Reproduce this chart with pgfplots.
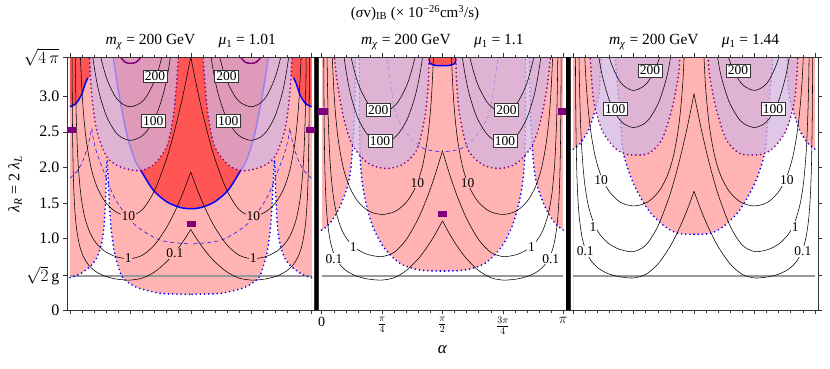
\documentclass[border=0pt]{standalone}
\usepackage{fontspec}
\setmainfont{Liberation Serif}
\usepackage{pgfplots}
\usepackage{pgfplotstable}
\pgfplotsset{compat=1.18}

\definecolor{pinkc}{HTML}{FFB3B3}
\definecolor{redc}{HTML}{FF5555}
\definecolor{lavc}{HTML}{D4B4DF}
\definecolor{purpc}{HTML}{800080}

\newcommand\fs[1]{\fontsize{#1}{#1}\selectfont}
% plot a half-table and its mirror image about alpha = pi/2
\newcommand\mir[2]{\addplot[#1] table[x=a,y=l]{#2};\addplot[#1] table[x expr=pi-\thisrow{a},y=l]{#2};}
\newcommand\mircc[2]{\addplot[#1] table[x=a,y=l]{#2}\closedcycle;\addplot[#1] table[x expr=pi-\thisrow{a},y=l]{#2}\closedcycle;}

% ---------- panel 1 (mu1 = 1.01) ----------
\pgfplotstableread[row sep=\\]{a l\\
0 0.453\\ 0.13 0.505\\ 0.26 0.608\\ 0.347 0.725\\ 0.412 0.935\\ 0.446 1.215\\ 0.468 1.683\\ 0.481 2.104\\
0.503 1.683\\ 0.529 1.215\\ 0.572 0.842\\ 0.628 0.608\\ 0.693 0.444\\ 0.867 0.318\\ 1.127 0.243\\ 1.3 0.226\\ 1.5708 0.22\\ 1.6 0.22\\}\BoneP
\pgfplotstableread[row sep=\\]{a l\\
0.545 3.7\\ 0.563 3.545\\ 0.628 3.086\\ 0.737 2.478\\ 0.845 2.104\\ 0.932 1.94\\ 1.083 1.683\\ 1.257 1.519\\ 1.43 1.44\\ 1.5708 1.421\\
1.7116 1.44\\ 1.8846 1.519\\ 2.0586 1.683\\ 2.2096 1.94\\ 2.2966 2.104\\ 2.4046 2.478\\ 2.5136 3.086\\ 2.5786 3.545\\ 2.5966 3.7\\}\UoneP
\pgfplotstableread[row sep=\\]{a l\\
0 3.7\\ 0 2.85\\ 0.08 2.9\\ 0.15 3.02\\ 0.2 3.2\\ 0.28 3.3\\ 0.28 3.7\\}\ConeP
\pgfplotstableread[row sep=\\]{a l\\
0 2.85\\ 0.08 2.9\\ 0.15 3.02\\ 0.2 3.18\\ 0.235 3.26\\}\ConeArc
\pgfplotstableread[row sep=\\]{a l\\
0.245 3.7\\ 0.251 3.544\\ 0.282 3.039\\ 0.347 2.525\\ 0.477 2.151\\ 0.65 2.01\\ 0.888 1.954\\ 1.083 2.034\\ 1.257 2.291\\ 1.343 2.712\\ 1.386 3.179\\ 1.408 3.544\\ 1.412 3.7\\}\LoneP
\pgfplotstableread[row sep=\\]{a l\\
0 1.85\\ 0.08 1.93\\ 0.15 2.05\\ 0.22 2.25\\ 0.265 2.45\\ 0.282 2.55\\ 0.30 2.42\\ 0.35 2.2\\ 0.433 1.963\\ 0.585 1.566\\ 0.823 1.216\\ 1.17 0.982\\ 1.5708 0.926\\}\DoneP
\pgfplotstableread[row sep=\\]{a l\\
0.65 3.6\\ 0.66 3.544\\ 0.72 3.475\\ 0.789 3.46\\ 0.86 3.475\\ 0.92 3.544\\ 0.932 3.6\\}\PoneArc
\pgfplotstableread[row sep=\\]{a l\\
0.0248 4.2\\ 0.0275 3.36\\ 0.0334 2.52\\ 0.0428 1.932\\ 0.0572 1.512\\ 0.0816 1.176\\ 0.1203 0.924\\ 0.1715 0.756\\ 0.2428 0.63\\ 0.3268 0.546\\
0.4361 0.483\\ 0.5535 0.445\\ 0.649 0.428\\ 0.7854 0.42\\ 0.9425 0.448\\ 1.0996 0.534\\ 1.2566 0.676\\ 1.3744 0.819\\ 1.4765 0.970\\ 1.5708 1.130\\}\AoneA
\pgfplotstableread[row sep=\\]{a l\\
0.0627 4.32\\ 0.0715 3.312\\ 0.0851 2.592\\ 0.1082 2.016\\ 0.145 1.584\\ 0.1937 1.296\\ 0.2618 1.08\\ 0.3423 0.936\\ 0.4476 0.828\\ 0.5612 0.763\\
0.6518 0.734\\ 0.7854 0.72\\ 0.9425 0.769\\ 1.0996 0.914\\ 1.2566 1.158\\ 1.3744 1.405\\ 1.4765 1.662\\ 1.5708 1.937\\}\AoneB
\pgfplotstableread[row sep=\\]{a l\\
0.1087 4.752\\ 0.1307 3.696\\ 0.1659 2.904\\ 0.2125 2.376\\ 0.278 1.98\\ 0.3556 1.716\\ 0.4574 1.518\\ 0.5678 1.399\\ 0.656 1.346\\ 0.7854 1.32\\
0.9425 1.409\\ 1.0996 1.676\\ 1.2566 2.123\\ 1.3744 2.575\\ 1.4765 3.048\\ 1.5708 3.551\\}\AoneC
\pgfplotstableread[row sep=\\]{a l\\
0.2317 4.284\\ 0.2945 3.57\\ 0.369 3.094\\ 0.468 2.737\\ 0.574 2.523\\ 0.660 2.428\\ 0.7854 2.38\\ 0.919 2.428\\ 1.0096 2.523\\ 1.1232 2.737\\ 1.2285 3.094\\ 1.309 3.57\\ 1.3771 4.284\\}\AoneD
\pgfplotstableread[row sep=\\]{a l\\
0.2945 4.275\\ 0.369 3.705\\ 0.468 3.278\\ 0.574 3.021\\ 0.660 2.907\\ 0.7854 2.85\\ 0.919 2.907\\ 1.0096 3.021\\ 1.1232 3.278\\ 1.2285 3.705\\ 1.309 4.275\\}\AoneE

% ---------- panel 2 (mu1 = 1.1) ----------
\pgfplotstableread[row sep=\\]{a l\\
0 1.122\\ 0.108 1.216\\ 0.238 1.449\\ 0.347 1.777\\ 0.39 2.104\\ 0.425 2.712\\ 0.442 3.545\\ 0.445 3.7\\ 0.487 3.7\\ 0.49 3.545\\
0.498 2.244\\ 0.542 1.683\\ 0.65 1.216\\ 0.802 0.888\\ 1.018 0.655\\ 1.278 0.561\\ 1.5708 0.547\\ 1.6 0.547\\}\BtwoP
\pgfplotstableread[row sep=\\]{a l\\
1.39 3.7\\ 1.395 3.545\\ 1.408 3.46\\ 1.49 3.43\\ 1.5708 3.427\\ 1.6516 3.43\\ 1.7336 3.46\\ 1.7466 3.545\\ 1.7516 3.7\\}\KtwoP
\pgfplotstableread[row sep=\\]{a l\\
0.16 3.7\\ 0.165 3.544\\ 0.217 3.086\\ 0.303 2.618\\ 0.412 2.291\\ 0.607 2.057\\ 0.823 1.987\\ 1.04 2.034\\ 1.235 2.244\\ 1.343 2.712\\ 1.386 3.179\\ 1.395 3.544\\ 1.398 3.7\\}\LtwoP
\pgfplotstableread[row sep=\\]{a l\\
0.80 3.7\\ 0.845 3.544\\ 0.953 2.805\\ 1.105 2.478\\ 1.322 2.267\\ 1.5708 2.22\\}\DtwoP
\pgfplotstableread[row sep=\\]{a l\\
0.0248 4.2\\ 0.0275 3.36\\ 0.0334 2.52\\ 0.0428 1.932\\ 0.0572 1.512\\ 0.0816 1.176\\ 0.1203 0.924\\ 0.1715 0.756\\ 0.2428 0.63\\ 0.3268 0.546\\
0.4361 0.483\\ 0.5535 0.445\\ 0.649 0.428\\ 0.7854 0.42\\ 0.9425 0.453\\ 1.0996 0.553\\ 1.2566 0.719\\ 1.3744 0.888\\ 1.4765 1.064\\ 1.5708 1.251\\}\AtwoA
\pgfplotstableread[row sep=\\]{a l\\
0.0627 4.5\\ 0.0715 3.45\\ 0.0851 2.7\\ 0.1082 2.1\\ 0.145 1.65\\ 0.1937 1.35\\ 0.2618 1.125\\ 0.3423 0.975\\ 0.4476 0.8625\\ 0.5612 0.795\\
0.6518 0.765\\ 0.7854 0.75\\ 0.9425 0.809\\ 1.0996 0.987\\ 1.2566 1.284\\ 1.3744 1.585\\ 1.4765 1.899\\ 1.5708 2.234\\}\AtwoB
\pgfplotstableread[row sep=\\]{a l\\
0.1087 4.824\\ 0.1307 3.752\\ 0.1659 2.948\\ 0.2125 2.412\\ 0.278 2.01\\ 0.3556 1.742\\ 0.4574 1.541\\ 0.5678 1.42\\ 0.656 1.367\\ 0.7854 1.34\\
0.919 1.367\\ 1.0096 1.42\\ 1.1232 1.541\\ 1.2285 1.742\\ 1.309 2.01\\ 1.3771 2.412\\ 1.4258 2.948\\ 1.4626 3.752\\}\AtwoC
\pgfplotstableread[row sep=\\]{a l\\
0.2317 4.23\\ 0.2945 3.525\\ 0.369 3.055\\ 0.468 2.7025\\ 0.574 2.491\\ 0.660 2.397\\ 0.7854 2.35\\ 0.919 2.397\\ 1.0096 2.491\\ 1.1232 2.7025\\ 1.2285 3.055\\ 1.309 3.525\\ 1.3771 4.23\\}\AtwoD
\pgfplotstableread[row sep=\\]{a l\\
0.2945 4.17\\ 0.369 3.614\\ 0.468 3.197\\ 0.574 2.947\\ 0.660 2.836\\ 0.7854 2.78\\ 0.919 2.836\\ 1.0096 2.947\\ 1.1232 3.197\\ 1.2285 3.614\\ 1.309 4.17\\}\AtwoE

% ---------- panel 3 (mu1 = 1.44) ----------
\pgfplotstableread[row sep=\\]{a l\\
0 2.258\\ 0.091 2.338\\ 0.199 2.525\\ 0.285 2.805\\ 0.337 3.039\\ 0.363 3.545\\ 0.366 3.7\\ 0.542 3.7\\ 0.545 3.545\\
0.609 2.712\\ 0.653 2.197\\ 0.782 1.777\\ 0.977 1.402\\ 1.193 1.169\\ 1.366 1.075\\ 1.5708 1.061\\ 1.6 1.061\\}\BthreeP
\pgfplotstableread[row sep=\\]{a l\\
0.215 3.7\\ 0.22 3.544\\ 0.264 2.945\\ 0.372 2.525\\ 0.523 2.291\\ 0.653 2.197\\ 0.782 2.174\\ 0.977 2.197\\ 1.15 2.384\\ 1.279 2.805\\ 1.366 3.273\\ 1.387 3.544\\ 1.39 3.7\\}\LthreeP
\pgfplotstableread[row sep=\\]{a l\\
0.0248 4.5\\ 0.0275 3.6\\ 0.0334 2.7\\ 0.0428 2.07\\ 0.0572 1.62\\ 0.0816 1.26\\ 0.1203 0.99\\ 0.1715 0.81\\ 0.2428 0.675\\ 0.3268 0.585\\
0.4361 0.5175\\ 0.5535 0.477\\ 0.649 0.459\\ 0.7854 0.45\\ 0.9425 0.499\\ 1.0996 0.644\\ 1.2566 0.887\\ 1.3744 1.134\\ 1.4765 1.391\\ 1.5708 1.665\\}\AthreeA
\pgfplotstableread[row sep=\\]{a l\\
0.0627 4.92\\ 0.0715 3.772\\ 0.0851 2.952\\ 0.1082 2.296\\ 0.145 1.804\\ 0.1937 1.476\\ 0.2618 1.23\\ 0.3423 1.066\\ 0.4476 0.943\\ 0.5612 0.869\\
0.6518 0.836\\ 0.7854 0.82\\ 0.9425 0.909\\ 1.0996 1.174\\ 1.2566 1.617\\ 1.3744 2.066\\ 1.4765 2.535\\ 1.5708 3.034\\}\AthreeB
\pgfplotstableread[row sep=\\]{a l\\
0.1087 5.256\\ 0.1307 4.088\\ 0.1659 3.212\\ 0.2125 2.628\\ 0.278 2.19\\ 0.3556 1.898\\ 0.4574 1.679\\ 0.5678 1.548\\ 0.656 1.489\\ 0.7854 1.46\\
0.919 1.489\\ 1.0096 1.548\\ 1.1232 1.679\\ 1.2285 1.898\\ 1.309 2.19\\ 1.3771 2.628\\ 1.4258 3.212\\ 1.4626 4.088\\}\AthreeC
\pgfplotstableread[row sep=\\]{a l\\
0.2317 4.608\\ 0.2945 3.84\\ 0.369 3.328\\ 0.468 2.944\\ 0.574 2.714\\ 0.660 2.611\\ 0.7854 2.56\\ 0.919 2.611\\ 1.0096 2.714\\ 1.1232 2.944\\ 1.2285 3.328\\ 1.309 3.84\\}\AthreeD
\pgfplotstableread[row sep=\\]{a l\\
0.369 4.004\\ 0.468 3.542\\ 0.574 3.265\\ 0.660 3.142\\ 0.7854 3.08\\ 0.919 3.142\\ 1.0096 3.265\\ 1.1232 3.542\\ 1.2285 4.004\\}\AthreeE

\pgfplotsset{
  panel/.style={scale only axis, width=247.7pt, height=252.7pt, anchor=south west,
    xmin=-0.04, xmax=3.1816, ymin=0, ymax=3.5449,
    xtick={0,0.7854,1.5708,2.3562,3.1416}, minor x tick num=4,
    ytick={0,0.4815,1,1.5,2,2.5,3,3.5449},
    xticklabels={}, yticklabels={},
    tick align=outside, major tick length=4pt, minor tick length=2.5pt,
    axis line style={line width=0.6pt, black!80},
    every tick/.style={black!80, line width=0.5pt},
    yticklabel style={font=\fs{16}},
    xticklabel style={font=\fs{14}},
    axis on top},
  cont/.style={black, line width=0.55pt, smooth, mark=none},
  bdot/.style={blue, line width=1.9pt, line cap=round, dash pattern=on 0pt off 4.2pt, smooth, mark=none},
  pdot/.style={purpc, line width=1.9pt, line cap=round, dash pattern=on 0pt off 4.2pt, smooth, mark=none},
  bsol/.style={blue, line width=1.5pt, smooth, mark=none},
  psol/.style={purpc, line width=1.5pt, smooth, mark=none},
  bdash/.style={blue, line width=0.5pt, dash pattern=on 4pt off 3pt, smooth, mark=none},
  lob/.style={fill=lavc, fill opacity=0.73, draw=none, smooth},
  gline/.style={black!40, line width=1.7pt, mark=none},
  pmark/.style={only marks, mark=square*, mark size=2.6pt, mark options={xscale=1.55, fill=purpc, draw=purpc}},
}
\tikzset{
  boxlab/.style={fill=white, draw=black!80, line width=0.5pt, inner sep=1.8pt, font=\fs{13.5}},
  plab/.style={inner sep=0.8pt, font=\fs{13.5}},
}

\begin{document}
\begin{tikzpicture}
\useasboundingbox (0pt,0pt) rectangle (830pt,368pt);

% ===== panel 1 =====
\begin{axis}[panel, name=p1, at={(66.9pt,58pt)},
  yticklabels={0,{$\sqrt{2}\,$g},1.0,1.5,2.0,2.5,3.0,{$\sqrt{4\,\pi}$}}]
\addplot[fill=pinkc, draw=none] coordinates {(0,0) (0,3.7) (3.1416,3.7) (3.1416,0)};
\mircc{fill=white, draw=none, smooth}{\BoneP}
\addplot[fill=redc, draw=none, smooth] table[x=a,y=l]{\UoneP};
\mir{fill=redc, draw=none}{\ConeP}
\addplot[gline] coordinates {(0,0.4815) (3.1416,0.4815)};
\addplot[bsol] table[x=a,y=l]{\UoneP};
\mir{bsol}{\ConeArc}
\mir{bdash}{\DoneP}
\mir{bdot}{\BoneP}
\mir{lob}{\LoneP}
\mir{pdot}{\LoneP}
\mir{psol}{\PoneArc}
\mir{cont}{\AoneA}
\mir{cont}{\AoneB}
\mir{cont}{\AoneC}
\mir{cont}{\AoneD}
\mir{cont}{\AoneE}
\node[boxlab] at (axis cs:1.105,3.28) {200};
\node[boxlab] at (axis cs:2.036,3.28) {200};
\node[boxlab] at (axis cs:1.083,2.65) {100};
\node[boxlab] at (axis cs:2.059,2.65) {100};
\node[plab, fill=pinkc] at (axis cs:0.758,1.32) {10};
\node[plab, fill=pinkc] at (axis cs:2.384,1.32) {10};
\node[plab, fill=pinkc] at (axis cs:0.758,0.725) {1};
\node[plab, fill=pinkc] at (axis cs:2.384,0.725) {1};
\node[plab, fill=pinkc] at (axis cs:1.365,0.795) {0.1};
\addplot[pmark] coordinates {(1.5708,1.215) (0.02,2.525) (3.12,2.525)};
\end{axis}

% ===== panel 2 =====
\begin{axis}[panel, name=p2, at={(318.6pt,58pt)},
  xticklabels={0,$\frac{\pi}{4}$,$\frac{\pi}{2}$,$\frac{3\pi}{4}$,$\pi$}]
\addplot[fill=pinkc, draw=none] coordinates {(0,0) (0,3.7) (3.1416,3.7) (3.1416,0)};
\mircc{fill=white, draw=none, smooth}{\BtwoP}
\addplot[fill=redc, draw=none, smooth] table[x=a,y=l]{\KtwoP};
\addplot[gline] coordinates {(0,0.4815) (3.1416,0.4815)};
\addplot[bsol] table[x=a,y=l]{\KtwoP};
\mir{bdash}{\DtwoP}
\mir{bdot}{\BtwoP}
\mir{lob}{\LtwoP}
\mir{pdot}{\LtwoP}
\mir{cont}{\AtwoA}
\mir{cont}{\AtwoB}
\mir{cont}{\AtwoC}
\mir{cont}{\AtwoD}
\mir{cont}{\AtwoE}
\node[boxlab] at (axis cs:0.737,2.81) {200};
\node[boxlab] at (axis cs:2.404,2.81) {200};
\node[boxlab] at (axis cs:0.758,2.37) {100};
\node[boxlab] at (axis cs:2.383,2.37) {100};
\node[plab, fill=pinkc] at (axis cs:1.243,1.78) {10};
\node[plab, fill=pinkc] at (axis cs:1.898,1.78) {10};
\node[plab, fill=white] at (axis cs:0.41,0.89) {1};
\node[plab, fill=white] at (axis cs:2.73,0.89) {1};
\node[plab, fill=white] at (axis cs:0.16,0.72) {0.1};
\node[plab, fill=white] at (axis cs:2.98,0.72) {0.1};
\addplot[pmark] coordinates {(1.5708,1.356) (0.013,2.79) (3.128,2.79)};
\end{axis}

% ===== panel 3 =====
\begin{axis}[panel, name=p3, at={(570.2pt,58pt)}]
\addplot[fill=pinkc, draw=none] coordinates {(0,0) (0,3.7) (3.1416,3.7) (3.1416,0)};
\mircc{fill=white, draw=none, smooth}{\BthreeP}
\addplot[gline] coordinates {(0,0.4815) (3.1416,0.4815)};
\mir{bdot}{\BthreeP}
\mir{lob}{\LthreeP}
\mir{pdot}{\LthreeP}
\mir{cont}{\AthreeA}
\mir{cont}{\AthreeB}
\mir{cont}{\AthreeC}
\mir{cont}{\AthreeD}
\mir{cont}{\AthreeE}
\node[boxlab] at (axis cs:0.998,3.36) {200};
\node[boxlab] at (axis cs:2.143,3.36) {200};
\node[boxlab] at (axis cs:0.545,2.82) {100};
\node[boxlab] at (axis cs:2.597,2.82) {100};
\node[plab, fill=white] at (axis cs:0.363,1.82) {10};
\node[plab, fill=white] at (axis cs:2.779,1.82) {10};
\node[plab, fill=white] at (axis cs:0.255,1.17) {1};
\node[plab, fill=white] at (axis cs:2.887,1.17) {1};
\node[plab, fill=white] at (axis cs:0.156,0.82) {0.1};
\node[plab, fill=white] at (axis cs:2.986,0.82) {0.1};
\end{axis}

% thick separators between the panels
\draw[line width=3.6pt] ([xshift=-2pt]p2.south west) -- ([xshift=-2pt]p2.north west);
\draw[line width=3.6pt] ([xshift=-1.95pt]p3.south west) -- ([xshift=-1.95pt]p3.north west);

% titles and axis labels
\node[font=\fs{15}] at (415pt,355pt) {(\textit{σ}v)\textsubscript{IB} (× 10\textsuperscript{−26}cm\textsuperscript{3}/s)};
\node[font=\fs{15.5}] at (190.8pt,326pt) {\textit{m}\textsubscript{\textit{χ}} = 200 GeV\hspace{1.5em}\textit{μ}\textsubscript{1} = 1.01};
\node[font=\fs{15.5}] at (442.4pt,326pt) {\textit{m}\textsubscript{\textit{χ}} = 200 GeV\hspace{1.5em}\textit{μ}\textsubscript{1} = 1.1};
\node[font=\fs{15.5}] at (694.1pt,326pt) {\textit{m}\textsubscript{\textit{χ}} = 200 GeV\hspace{1.5em}\textit{μ}\textsubscript{1} = 1.44};
\node[font=\fs{17}] at (442.4pt,18pt) {\textit{α}};
\node[font=\fs{16}, rotate=90] at (15pt,184pt) {\textit{λ}\textsubscript{\textit{R}} = 2 \textit{λ}\textsubscript{\textit{L}}};
\end{tikzpicture}
\end{document}
